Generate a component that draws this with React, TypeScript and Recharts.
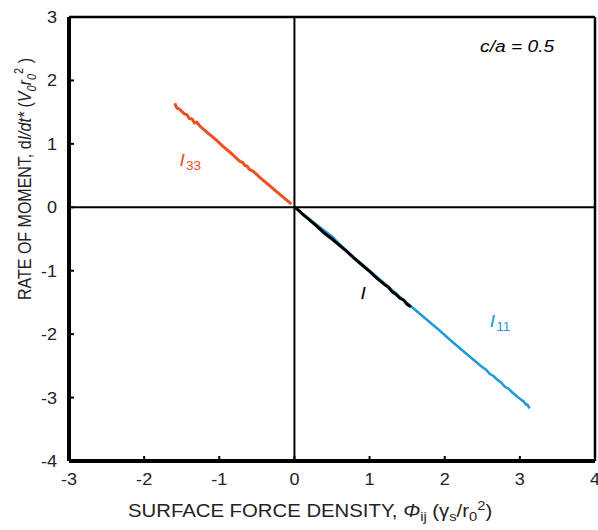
import React from 'react';
import { LineChart, Line, XAxis, YAxis, ReferenceLine, ReferenceDot } from 'recharts';

const xTicks = [-3, -2, -1, 0, 1, 2, 3, 4];
const yTicks = [-4, -3, -2, -1, 0, 1, 2, 3];

const i33X = [-0.04, -0.15, -0.25, -0.35, -0.45, -0.55, -0.6, -0.63, -0.66, -0.69, -0.72, -0.76, -0.85, -0.95, -1.05, -1.15, -1.25, -1.3, -1.33, -1.36, -1.4, -1.43, -1.46, -1.5, -1.53, -1.56, -1.58, -1.59];
const i33Y = [0.05, 0.16, 0.26, 0.36, 0.46, 0.57, 0.6, 0.65, 0.66, 0.71, 0.72, 0.76, 0.86, 0.96, 1.07, 1.17, 1.27, 1.34, 1.33, 1.39, 1.4, 1.46, 1.47, 1.51, 1.55, 1.56, 1.6, 1.64];

const iX = [0, 0.05, 0.1, 0.2, 0.3, 0.4, 0.5, 0.6, 0.7, 0.8, 0.9, 1.0, 1.1, 1.2, 1.25, 1.3, 1.35, 1.4, 1.45, 1.5, 1.55];
const iY = [0, -0.04, -0.1, -0.2, -0.3, -0.41, -0.5, -0.6, -0.7, -0.81, -0.91, -1.01, -1.12, -1.22, -1.26, -1.33, -1.37, -1.43, -1.46, -1.53, -1.57];

const i11X = [0.02, 0.3, 0.4, 0.5, 0.6, 0.8, 1.0, 1.2, 1.4, 1.55, 1.7, 1.9, 2.1, 2.3, 2.45, 2.5, 2.55, 2.6, 2.65, 2.7, 2.75, 2.8, 2.85, 2.9, 2.95, 3.0, 3.05, 3.08, 3.1, 3.13];
const i11Y = [-0.02, -0.28, -0.37, -0.46, -0.58, -0.8, -1.0, -1.2, -1.41, -1.56, -1.71, -1.91, -2.12, -2.32, -2.47, -2.52, -2.56, -2.63, -2.66, -2.72, -2.76, -2.83, -2.86, -2.92, -2.97, -3.02, -3.06, -3.11, -3.11, -3.17];

const ORANGE = '#EE4F24';
const BLUE = '#1C9AD6';
const FONT = '"Liberation Sans", Arial, sans-serif';
const SX = 1.13;

const toPts = (xs: number[], ys: number[]) => xs.map((x, i) => ({ x, y: ys[i] }));
const i33 = toPts(i33X, i33Y);
const iBlack = toPts(iX, iY);
const i11 = toPts(i11X, i11Y);

const XTick = (p: any) => (
  <g transform={`translate(${p.x},${p.y + 18}) scale(${SX},1)`}>
    <text x={0} y={0} textAnchor="middle" fontSize={16} fontFamily={FONT} fill="#222">{p.payload.value}</text>
  </g>
);

const YTick = (p: any) => (
  <g transform={`translate(57,${p.y + 6}) scale(${SX},1)`}>
    <text x={0} y={0} textAnchor="end" fontSize={16} fontFamily={FONT} fill="#222">{p.payload.value}</text>
  </g>
);

const SeriesLabel = (props: any) => {
  const { cx, cy, color, sub } = props;
  return (
    <g transform={`translate(${cx},${cy}) scale(${SX},1)`}>
      <text x={0} y={0} fill={color} fontSize={17} fontFamily={FONT}>
        <tspan fontStyle="italic">I</tspan>
        {sub ? <tspan fontSize={12} dy={4} dx={1}>{sub}</tspan> : null}
      </text>
    </g>
  );
};

const NoteLabel = (props: any) => (
  <g transform={`translate(${props.cx},${props.cy}) scale(${SX},1)`}>
    <text x={0} y={0} fill="#000" fontSize={17} fontFamily={FONT} fontStyle="italic">c/a = 0.5</text>
  </g>
);

const XTitle = () => (
  <g transform={`translate(128,517) scale(${SX},1)`}>
    <text x={0} y={0} fontSize={18} fontFamily={FONT} fill="#222">
      <tspan>SURFACE FORCE DENSITY,  </tspan>
      <tspan fontStyle="italic">Φ</tspan>
      <tspan fontSize={13} dy={4}>ij</tspan>
      <tspan dy={-4}> (γ</tspan>
      <tspan fontSize={13} dy={4}>s</tspan>
      <tspan dy={-4}>/r</tspan>
      <tspan fontSize={13} dy={4}>0</tspan>
      <tspan fontSize={13} dy={-11}>2</tspan>
      <tspan dy={7}>)</tspan>
    </text>
  </g>
);

const YTitle = () => (
  <g transform={`translate(31,300) scale(${SX},1) rotate(-90)`}>
    <text x={0} y={0} fontSize={16} fontFamily={FONT} fill="#222">
      <tspan>RATE OF MOMENT,  d</tspan>
      <tspan fontStyle="italic">I/dt*</tspan>
      <tspan> (</tspan>
      <tspan fontStyle="italic">V</tspan>
      <tspan fontSize={11} dy={4} fontStyle="italic">0</tspan>
      <tspan dy={-4} fontStyle="italic">r</tspan>
      <tspan fontSize={11} dy={4} fontStyle="italic">0</tspan>
      <tspan fontSize={11} dy={-11}>2</tspan>
      <tspan dy={7}> )</tspan>
    </text>
  </g>
);

export default function App() {
  return (
    <div style={{ position: 'absolute', left: 0, top: 0, width: 598, height: 530, background: '#fff' }}>
      <LineChart width={598} height={530} margin={{ top: 17, right: 3, bottom: 0, left: 0 }}>
        <XAxis
          type="number"
          dataKey="x"
          domain={[-3, 4]}
          ticks={xTicks}
          interval={0}
          height={69}
          allowDataOverflow
          axisLine={{ stroke: '#000', strokeWidth: 4 }}
          tickLine={{ stroke: '#000', strokeWidth: 2 }}
          tickSize={-5}
          tickMargin={11}
          tick={<XTick />}
          label={{ content: XTitle }}
        />
        <YAxis
          type="number"
          dataKey="y"
          domain={[-4, 3]}
          ticks={yTicks}
          interval={0}
          width={69}
          allowDataOverflow
          axisLine={{ stroke: '#000', strokeWidth: 4 }}
          tickLine={{ stroke: '#000', strokeWidth: 2 }}
          tickSize={-5}
          tickMargin={17}
          tick={<YTick />}
          label={{ content: YTitle }}
        />
        <ReferenceLine y={3} stroke="#000" strokeWidth={2.5} />
        <ReferenceLine x={4} stroke="#000" strokeWidth={2.5} />
        <ReferenceLine y={0} stroke="#000" strokeWidth={2} />
        <ReferenceLine x={0} stroke="#000" strokeWidth={2} />
        <Line data={i11} dataKey="y" stroke={BLUE} strokeWidth={2.5} dot={false} isAnimationActive={false} />
        <Line data={i33} dataKey="y" stroke={ORANGE} strokeWidth={3} dot={false} isAnimationActive={false} />
        <Line data={iBlack} dataKey="y" stroke="#000" strokeWidth={3} dot={false} isAnimationActive={false} />
        <ReferenceDot x={-1.53} y={0.65} r={0} shape={(p: any) => <SeriesLabel {...p} color={ORANGE} sub="33" />} />
        <ReferenceDot x={0.88} y={-1.45} r={0} shape={(p: any) => <SeriesLabel {...p} color="#000" />} />
        <ReferenceDot x={2.6} y={-1.88} r={0} shape={(p: any) => <SeriesLabel {...p} color={BLUE} sub="11" />} />
        <ReferenceDot x={2.47} y={2.45} r={0} shape={(p: any) => <NoteLabel {...p} />} />
      </LineChart>
    </div>
  );
}
